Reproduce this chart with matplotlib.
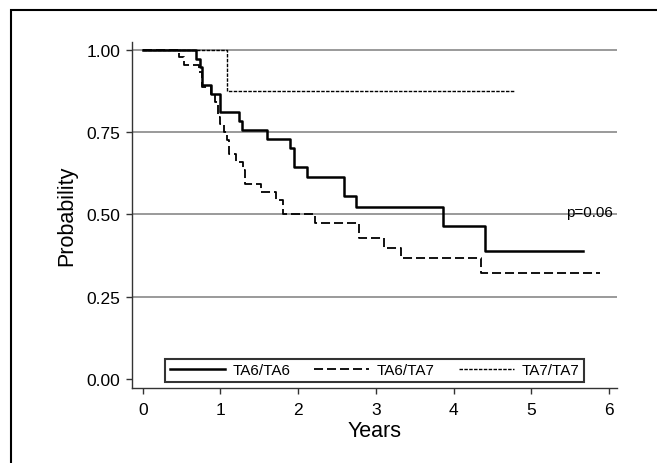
# Kaplan-Meier style survival curves for three genotype groups

import matplotlib.pyplot as plt
from matplotlib.patches import Rectangle

plt.rcParams['font.family'] = ['Liberation Sans', 'DejaVu Sans']

# step curves (time in years, survival probability)
ta66_t = [0, 0.68, 0.74, 0.76, 0.88, 0.99, 1.245, 1.28, 1.60, 1.895, 1.95, 2.12, 2.59, 2.74, 3.87, 4.41, 5.66]
ta66_s = [1.0, 0.973, 0.946, 0.892, 0.865, 0.811, 0.784, 0.757, 0.730, 0.703, 0.643, 0.614, 0.556, 0.522, 0.465, 0.390, 0.390]

ta67_t = [0, 0.47, 0.53, 0.72, 0.76, 0.88, 0.93, 0.97, 1.00, 1.05, 1.08, 1.11, 1.20, 1.29, 1.32, 1.52, 1.72, 1.81,
          2.22, 2.78, 3.10, 3.33, 4.35, 5.88]
ta67_s = [1.0, 0.977, 0.955, 0.932, 0.886, 0.864, 0.841, 0.795, 0.773, 0.750, 0.727, 0.682, 0.659, 0.636, 0.591,
          0.568, 0.545, 0.500, 0.473, 0.427, 0.399, 0.367, 0.323, 0.323]

ta77_t = [0, 1.08, 4.79]
ta77_s = [1.0, 0.875, 0.875]

labels = ['TA6/TA6', 'TA6/TA7', 'TA7/TA7']
p_text = 'p=0.06'

fig = plt.figure(figsize=(6.57, 4.64), dpi=100)
ax = fig.add_axes([0.2005, 0.161, 0.7382, 0.7457])

for yv in [0.25, 0.5, 0.75, 1.0]:
    ax.axhline(yv, color='#7f7f7f', lw=1.1, zorder=1)

ax.step(ta66_t, ta66_s, where='post', color='black', lw=1.8, label=labels[0], zorder=3)
ax.step(ta67_t, ta67_s, where='post', color='black', lw=1.3, dashes=(5, 2.2), label=labels[1], zorder=3)
ax.step(ta77_t, ta77_s, where='post', color='black', lw=1.0, dashes=(2.5, 1), label=labels[2], zorder=3)

ax.text(6.05, 0.506, p_text, ha='right', va='center', fontsize=11)

ax.set_xlim(-0.1416, 6.10)
ax.set_ylim(-0.028, 1.0225)
ax.set_xticks(range(7))
ax.set_yticks([0, 0.25, 0.5, 0.75, 1.0])
ax.set_yticklabels(['0.00', '0.25', '0.50', '0.75', '1.00'])
ax.tick_params(axis='both', labelsize=12.5, length=4, width=1, colors='#333333', labelcolor='black')
ax.tick_params(axis='y', pad=4)
ax.tick_params(axis='x', pad=6)
for side in ['top', 'right']:
    ax.spines[side].set_visible(False)
for side in ['left', 'bottom']:
    ax.spines[side].set_color('#333333')
    ax.spines[side].set_linewidth(1.0)

ax.set_xlabel('Years', fontsize=15.5, labelpad=2)
ax.set_ylabel('Probability', fontsize=15.5, labelpad=7)

leg = ax.legend(loc='lower left', bbox_to_anchor=(0.0687, 0.018, 0.864, 0.075), mode='expand', ncol=3,
                fontsize=11, frameon=True, fancybox=False, borderaxespad=0, borderpad=0.3,
                handlelength=3.6, handletextpad=0.5, columnspacing=1.3)
leg.get_frame().set_edgecolor('black')
leg.get_frame().set_linewidth(1.5)

# outer border of the original figure panel
fig.add_artist(Rectangle((11 / 657, -0.1), 1.2, 1.1 - 11 / 464, transform=fig.transFigure,
                         fill=False, edgecolor='black', lw=1.5, clip_on=False))

fig.savefig('out.png', dpi=100)
